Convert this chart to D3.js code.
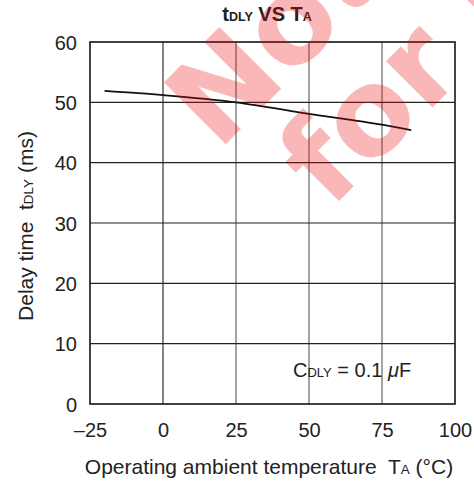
<!DOCTYPE html>
<html><head><meta charset="utf-8">
<script src="https://cdn.jsdelivr.net/npm/d3@7"></script>
<style>body{margin:0;background:#fff}svg{display:block}text{white-space:pre}</style>
</head><body>
<svg id="c" width="474" height="481"></svg>
<script>
const temps = [-20, 0, 25, 50, 75, 85];
const delays = [51.9, 51.2, 50.0, 48.1, 46.3, 45.4];
const xTicks = [-25, 0, 25, 50, 75, 100];
const xTickLabels = ["–25", "0", "25", "50", "75", "100"];
const yTicks = [0, 10, 20, 30, 40, 50, 60];
const yTickLabels = ["0", "10", "20", "30", "40", "50", "60"];
const watermarkLines = ["Not recommended", "for new designs"];

const svg = d3.select("#c");
const FONT = "'Liberation Sans', Arial, Helvetica, sans-serif";
const x = d3.scaleLinear().domain([-25, 100]).range([90, 455]);
const y = d3.scaleLinear().domain([0, 60]).range([404, 42]);

svg.append("rect").attr("width", 474).attr("height", 481).attr("fill", "#fff");

// grid
const g = svg.append("g");
g.selectAll(".vg").data(xTicks.slice(1, -1)).enter().append("line")
  .attr("x1", d => x(d)).attr("x2", d => x(d)).attr("y1", y(60)).attr("y2", y(0))
  .attr("stroke", d => d === 0 ? "#333" : "#666").attr("stroke-width", 1.2);
g.selectAll(".hg").data(yTicks.slice(1, -1)).enter().append("line")
  .attr("y1", d => y(d)).attr("y2", d => y(d)).attr("x1", x(-25)).attr("x2", x(100))
  .attr("stroke", "#222").attr("stroke-width", 1.2);
g.append("rect").attr("x", x(-25)).attr("y", y(60)).attr("width", x(100) - x(-25)).attr("height", y(0) - y(60))
  .attr("fill", "none").attr("stroke", "#222").attr("stroke-width", 1.7);

// axes (labels only) via d3 axes
const xAxis = d3.axisBottom(x).tickValues(xTicks).tickFormat((d, i) => xTickLabels[i]).tickSize(0).tickPadding(0);
const xa = svg.append("g").attr("transform", `translate(0,${y(0)})`).call(xAxis);
xa.select(".domain").remove();
xa.selectAll("text").attr("font-family", FONT).attr("font-size", 20).attr("fill", "#222")
  .attr("dy", null).attr("y", 33).attr("dominant-baseline", "auto");

const yAxis = d3.axisLeft(y).tickValues(yTicks).tickFormat((d, i) => yTickLabels[i]).tickSize(0).tickPadding(0);
const ya = svg.append("g").attr("transform", `translate(${x(-25)},0)`).call(yAxis);
ya.select(".domain").remove();
ya.selectAll("text").attr("font-family", FONT).attr("font-size", 20).attr("fill", "#222")
  .attr("x", -13).attr("dy", "0.35em");

// curve
const line = d3.line().x((d, i) => x(temps[i])).y(d => y(d)).curve(d3.curveMonotoneX);
svg.append("path").datum(delays).attr("d", line).attr("fill", "none")
  .attr("stroke", "#111").attr("stroke-width", 1.8);

// title
const t = svg.append("text").attr("x", 267).attr("y", 21).attr("text-anchor", "middle")
  .attr("font-family", FONT).attr("font-weight", "bold").attr("font-size", 20).attr("fill", "#222");
t.append("tspan").text("t");
t.append("tspan").attr("font-size", 12.5).text("DLY");
t.append("tspan").text(" VS T");
t.append("tspan").attr("font-size", 12.5).text("A");

// annotation
const a = svg.append("text").attr("x", 293).attr("y", 377)
  .attr("font-family", FONT).attr("font-size", 20).attr("fill", "#222");
a.append("tspan").text("C");
a.append("tspan").attr("font-size", 13).text("DLY");
a.append("tspan").text(" = 0.1 ");
a.append("tspan").attr("font-style", "italic").text("μ");
a.append("tspan").text("F");

// x label
const xl = svg.append("text").attr("x", 269).attr("y", 474).attr("text-anchor", "middle")
  .attr("font-family", FONT).attr("font-size", 21).attr("fill", "#222");
xl.append("tspan").text("Operating ambient temperature  T");
xl.append("tspan").attr("font-size", 13.5).text("A");
xl.append("tspan").text(" (°C)");

// y label
const yl = svg.append("text").attr("transform", "translate(33,226) rotate(-90)").attr("text-anchor", "middle")
  .attr("font-family", FONT).attr("font-size", 21).attr("fill", "#222");
yl.append("tspan").text("Delay time  t");
yl.append("tspan").attr("font-size", 13.5).text("DLY");
yl.append("tspan").text(" (ms)");

// watermark
const wmPos = [[218, 152], [330, 210]];
svg.append("g").attr("opacity", 0.28).selectAll("text").data(watermarkLines).enter().append("text")
  .attr("transform", (d, i) => `translate(${wmPos[i][0]},${wmPos[i][1]}) rotate(-45)`)
  .attr("font-family", "'DejaVu Sans', sans-serif").attr("font-weight", "bold").attr("font-size", 120)
  .attr("fill", "rgb(236,0,0)").text(d => d);
</script>
</body></html>
